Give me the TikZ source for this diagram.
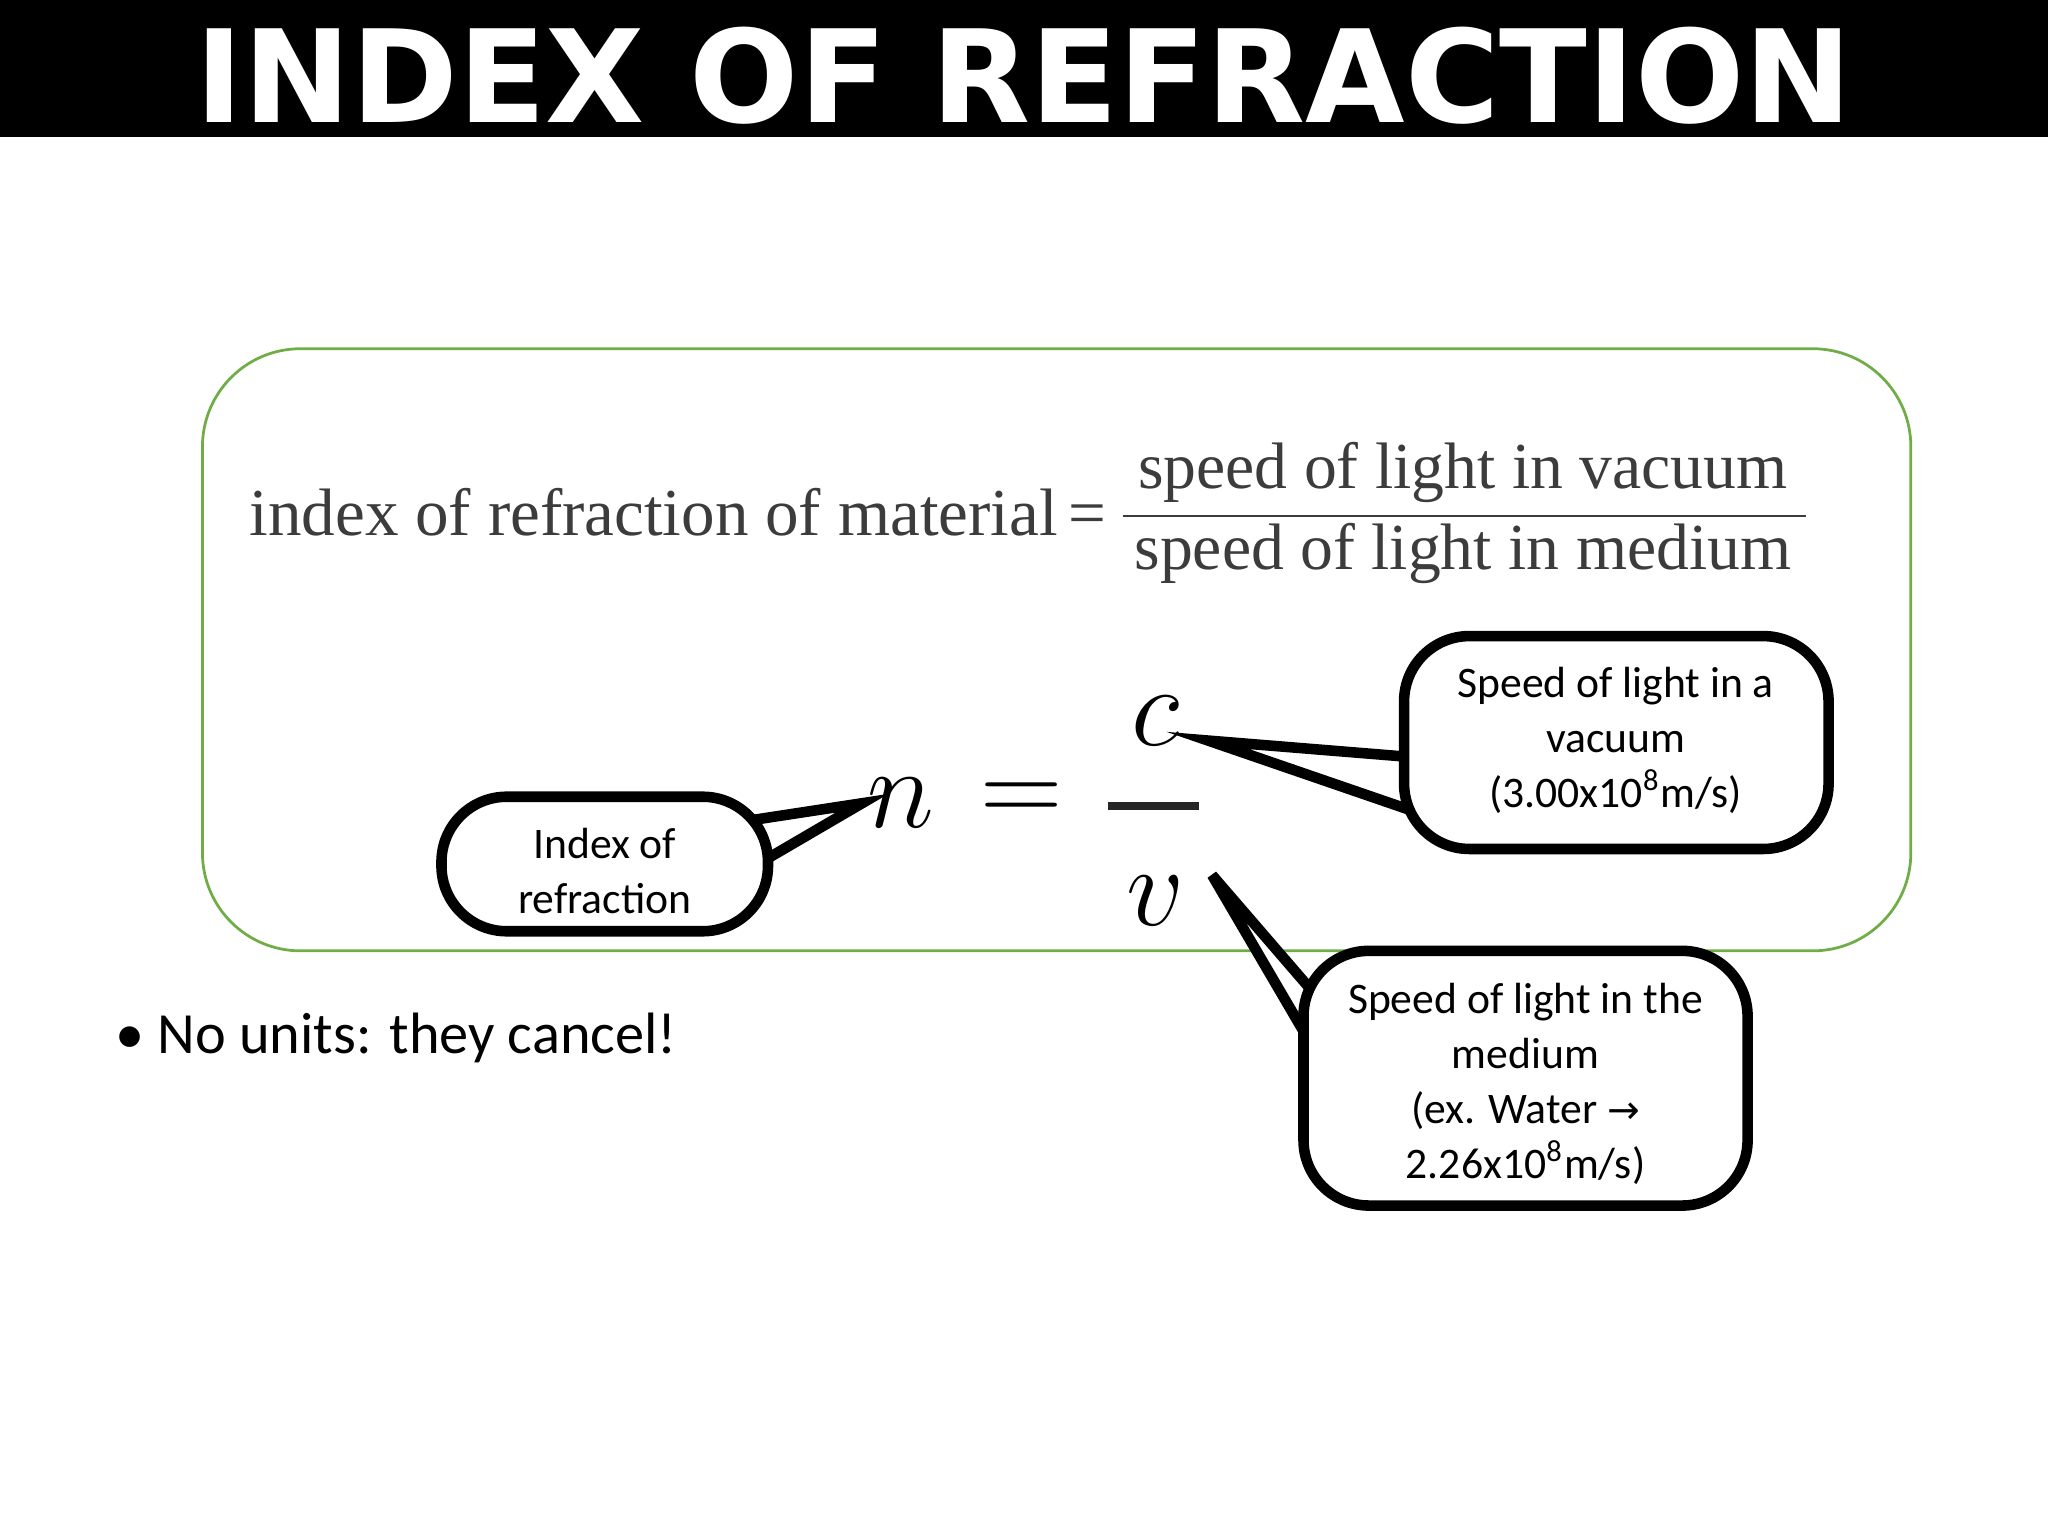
\documentclass[tikz,border=0pt]{standalone}
\usepackage{fontspec}
\setmainfont{Liberation Serif}
\newfontfamily\titlefont{DejaVu Sans}
\newfontfamily\callfont{Carlito}
\newfontfamily\symfont{DejaVu Sans}
\definecolor{boxgreen}{RGB}{112,173,71}
\definecolor{formgray}{RGB}{60,60,60}
\begin{document}
\begin{tikzpicture}[x=0.01cm,y=-0.01cm,
  callout/.style={draw=black,line width=2.3pt,fill=white,rounded corners=0.5cm},
  calltext/.style={font=\callfont\fontsize{9.5}{12}\selectfont,align=center},
  wedge/.style={draw=black,line width=2.3pt,fill=white,line join=miter},
  bigmath/.style={font=\fontsize{33}{33}\selectfont,inner sep=0pt}]
\useasboundingbox (0,0) rectangle (1568,1176);
\fill[black] (0,0) rectangle (1568,105);
\node[text=white,font=\titlefont\bfseries\fontsize{28}{28}\selectfont] (title) at (784,58) {INDEX OF REFRACTION};
\draw[boxgreen,line width=0.6pt,rounded corners=0.75cm] (155,267) rectangle (1463,728);
% formula
\node[anchor=east,text=formgray,font=\fontsize{14.6}{15}\selectfont,inner sep=0pt] (lhs) at (848,392) {index of refraction of material\,=};
\node[text=formgray,font=\fontsize{14.3}{14}\selectfont,inner sep=0pt] (num) at (1120,362) {speed of light in vacuum};
\node[text=formgray,font=\fontsize{14.3}{14}\selectfont,inner sep=0pt] (den) at (1120,424) {speed of light in medium};
\draw[formgray,line width=0.6pt] (860,395) -- (1383,395);
% n = c/v
\node[bigmath] (n) at (690,615) {$n$};
\node[bigmath] (eq) at (782,615) {$=$};
\draw[black!85,line width=1.6pt] (848,617) coordinate (barL) -- (918,617) coordinate (barR);
\node[bigmath] (c) at (885,552) {$c$};
\node[bigmath] (v) at (885,690) {$v$};
% callouts
\coordinate (t1) at (660,615);
\coordinate (t2) at (925,567);
\coordinate (t3) at (928,670);
\filldraw[wedge] (575,628) -- (t1) -- (583,660) -- cycle;
\filldraw[wedge] (1085,580) -- (t2) -- (1085,622) -- cycle;
\filldraw[wedge] (1010,765) -- (t3) -- (1010,810) -- cycle;
\filldraw[callout] (338,610) rectangle (588,713);
\filldraw[callout] (1075,487) rectangle (1400,650);
\filldraw[callout] (998,728) rectangle (1338,923);
\node[calltext] (l1) at (463,667) {Index of\\refraction};
\node[calltext] (l2) at (1237,567) {Speed of light in a\\vacuum\\(3.00x10\textsuperscript{8}m/s)};
\node[calltext] (l3) at (1168,830) {Speed of light in the\\medium\\(ex. Water {\symfont\fontsize{8.5}{12}\selectfont→}\\2.26x10\textsuperscript{8}m/s)};
\node[anchor=west,font=\callfont\fontsize{12.7}{14}\selectfont] (bul) at (76,795) {\textbullet\ No units: they cancel!};
\end{tikzpicture}
\end{document}
